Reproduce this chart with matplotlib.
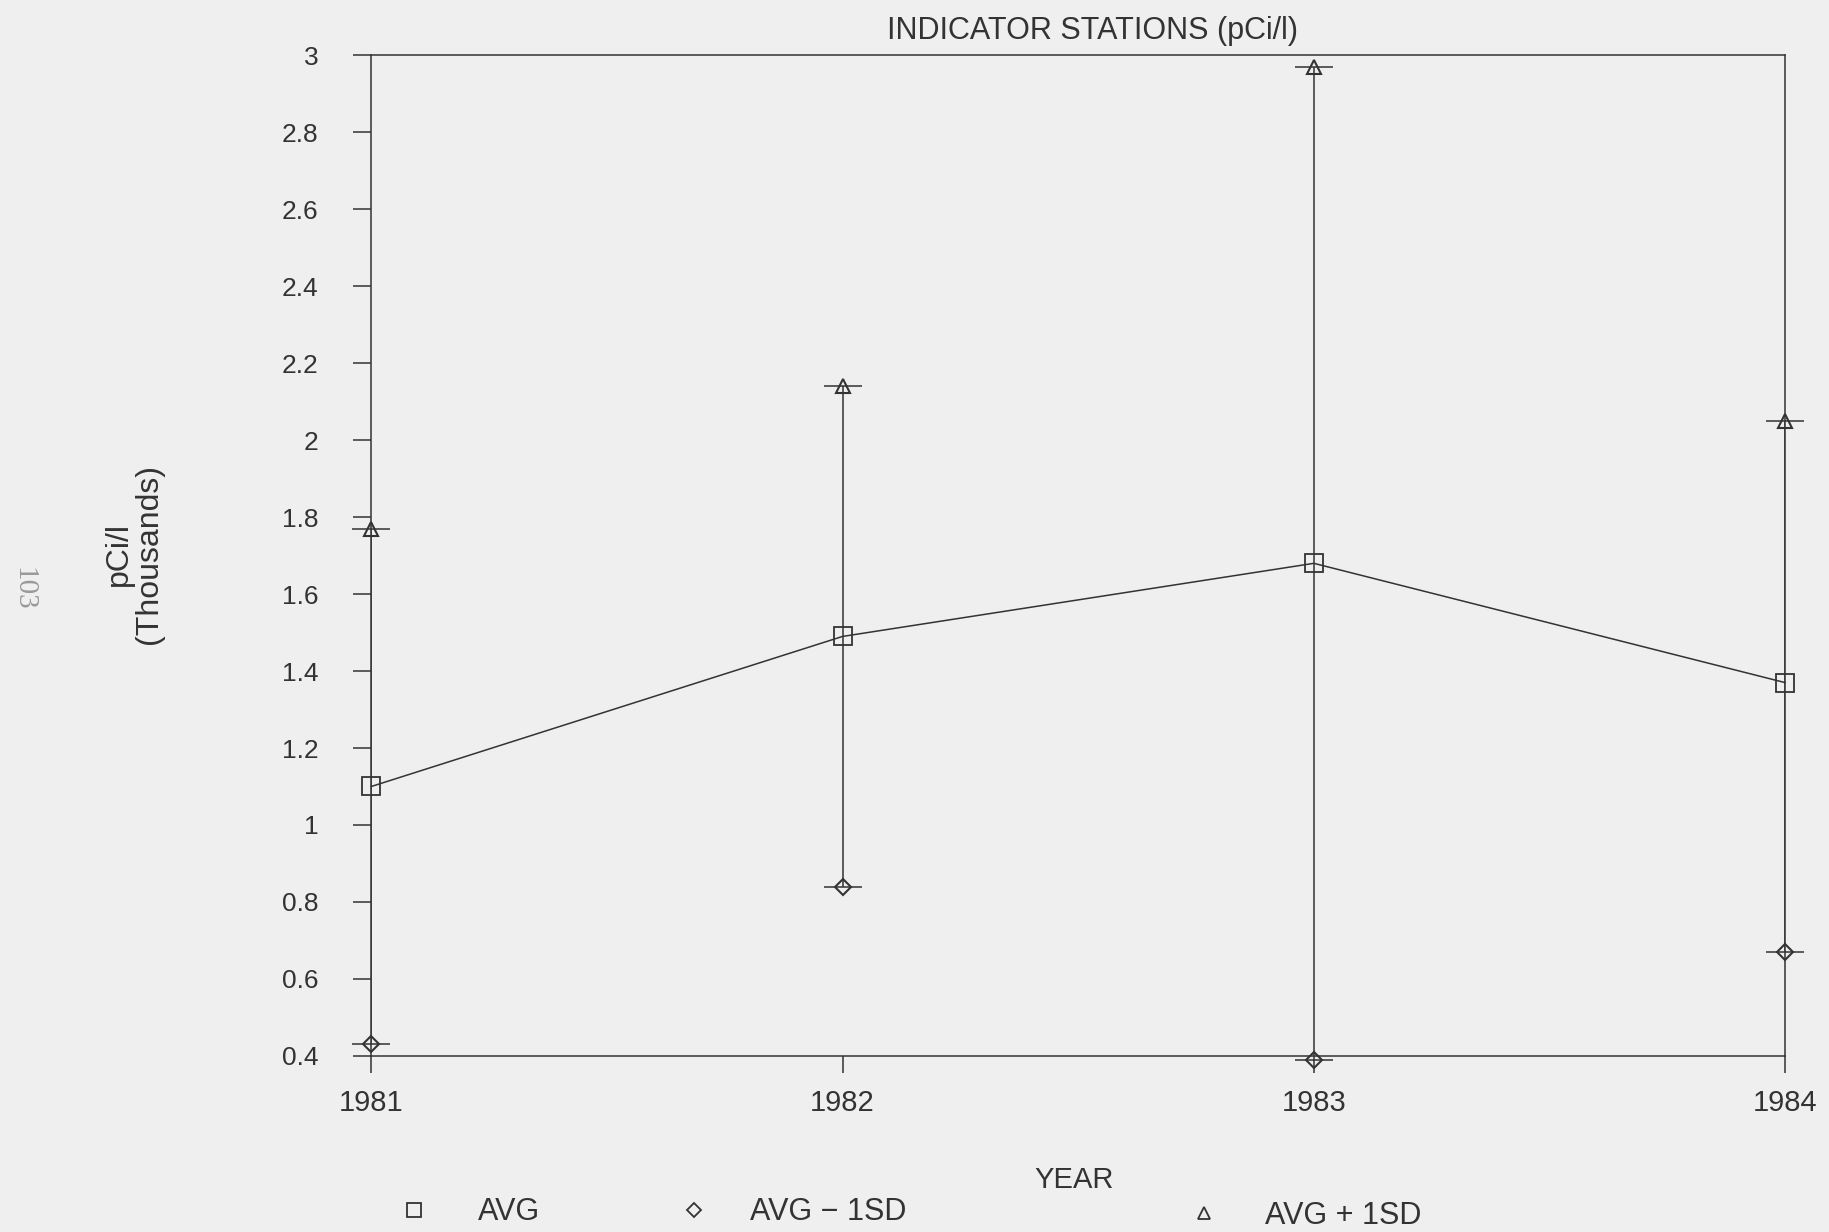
import matplotlib
matplotlib.use("Agg")
import matplotlib.pyplot as plt
from matplotlib.lines import Line2D

# ---------------------------
# Data (pCi/l, thousands)
# ---------------------------
YEARS = [1981, 1982, 1983, 1984]
AVG = [1.10, 1.49, 1.68, 1.37]
AVG_MINUS_1SD = [0.43, 0.84, 0.39, 0.67]
AVG_PLUS_1SD = [1.77, 2.14, 2.97, 2.05]
Y_TICKS = [0.4, 0.6, 0.8, 1.0, 1.2, 1.4, 1.6, 1.8, 2.0, 2.2, 2.4, 2.6, 2.8, 3.0]
LEGEND_LABELS = ['AVG', 'AVG \u2212 1SD', 'AVG + 1SD']

BG = '#efefef'
INK = '#333333'
NARROW = ['Liberation Sans Narrow', 'Liberation Sans', 'DejaVu Sans']

plt.rcParams['font.family'] = ['Liberation Sans', 'DejaVu Sans']

fig = plt.figure(figsize=(18.29, 12.32), dpi=100, facecolor=BG)
ax = fig.add_axes([0.203, 0.143, 0.773, 0.812], facecolor=BG)

# hi-lo bars with end caps
ax.vlines(YEARS, AVG_MINUS_1SD, AVG_PLUS_1SD, color=INK, lw=1.1, zorder=2)
for vals in (AVG_MINUS_1SD, AVG_PLUS_1SD):
    ax.plot(YEARS, vals, linestyle='none', marker='_', ms=28, mew=1.1,
            color=INK, zorder=3, clip_on=False)

ax.plot(YEARS, AVG, color=INK, lw=1.1, marker='s', ms=13, mfc='none', mew=1.3,
        zorder=4, clip_on=False)
ax.plot(YEARS, AVG_MINUS_1SD, linestyle='none', marker='D', ms=8, mfc='none', mew=1.5,
        color=INK, zorder=4, clip_on=False)
ax.plot(YEARS, AVG_PLUS_1SD, linestyle='none', marker='^', ms=10, mfc='none', mew=1.5,
        color=INK, zorder=4, clip_on=False)

ax.set_xlim(1981, 1984)
ax.set_ylim(0.4, 3.0)
ax.set_xticks(YEARS)
ax.set_xticklabels([str(y) for y in YEARS])
ax.set_yticks(Y_TICKS)
ax.set_yticklabels([f'{v:g}' for v in Y_TICKS])

ax.tick_params(axis='y', direction='out', length=13, width=1.1, colors=INK, labelsize=19, pad=25)
ax.tick_params(axis='x', direction='out', length=12, width=1.1, colors=INK, labelsize=21, pad=12)
for s in ax.spines.values():
    s.set_color(INK)
    s.set_linewidth(1.1)

ax.set_title('INDICATOR STATIONS (pCi/l)', fontsize=22, color=INK, pad=12, x=0.51)
fig.text(0.073, 0.55, 'pCi/l\n(Thousands)', rotation=90, ha='center', va='center',
         fontsize=23, color=INK, linespacing=1.0)

fig.text(0.587, 0.042, 'YEAR', ha='center', va='center', fontsize=21, color=INK, family=NARROW)
fig.text(0.013, 0.522, '103', rotation=-90, ha='center', va='center', fontsize=21,
         color='#999999', family=['Liberation Serif', 'DejaVu Serif'])

# legend: three separate entries placed like the original
markers = [('s', 10), ('D', 7), ('^', 9)]
anchors = [(0.218, 0.016), (0.371, 0.016), (0.650, 0.013)]
pads = [1.6, 1.35, 1.5]
for (m, ms), lab, anc, pad in zip(markers, LEGEND_LABELS, anchors, pads):
    h = Line2D([], [], linestyle='none', marker=m, ms=ms, mfc='none', mew=1.3, color=INK)
    fig.legend([h], [lab], loc='center left', bbox_to_anchor=anc, frameon=False,
               prop={'family': NARROW, 'size': 22}, labelcolor=INK,
               handletextpad=pad, handlelength=1.0, borderpad=0, borderaxespad=0)

plt.savefig('out.png', dpi=100, facecolor=BG)
